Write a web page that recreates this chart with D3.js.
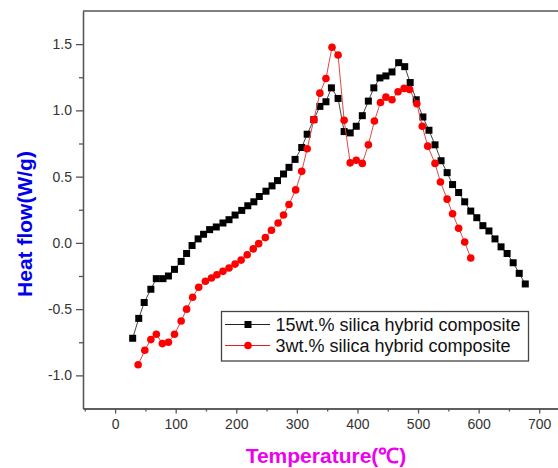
<!DOCTYPE html>
<html>
<head>
<meta charset="utf-8">
<script src="https://cdn.jsdelivr.net/npm/d3@7"></script>
<style>
	body { margin: 0; background: #fff; }
	svg { display: block; font-family: Arial, "Liberation Sans", sans-serif; }
	.axis path, .axis line { stroke: #555; stroke-width: 1.3; }
	.axis text { fill: #333; font-size: 14px; font-family: Arial, "Liberation Sans", sans-serif; }
</style>
</head>
<body>
<div id="chart"></div>
<script>

// 15wt.% silica hybrid composite (black squares)
var temp15 = [29,39,48,59,68,79,88,98,109,118,
	127,137,146,156,167,178,188,198,209,219,
	229,238,249,259,268,278,287,297,308,317,
	328,338,348,357,368,378,388,398,408,418,
	427,437,447,457,468,478,487,497,508,518,
	528,538,548,557,567,577,587,597,607,617,
	627,637,647,657,667,677];
var flow15 = [-0.72,-0.57,-0.45,-0.35,-0.27,-0.27,-0.25,-0.20,-0.14,-0.08,
	-0.02,0.03,0.065,0.10,0.12,0.15,0.175,0.21,0.245,0.28,
	0.31,0.35,0.39,0.43,0.47,0.52,0.57,0.63,0.72,0.82,
	0.93,1.03,1.065,1.17,1.09,0.84,0.83,0.88,0.96,1.07,
	1.17,1.245,1.26,1.29,1.36,1.33,1.21,1.08,0.95,0.85,
	0.74,0.62,0.53,0.44,0.38,0.31,0.24,0.19,0.13,0.09,
	0.03,-0.03,-0.08,-0.15,-0.23,-0.31];

// 3wt.% silica hybrid composite (red circles)
var temp3 = [38,49,59,68,78,88,98,109,118,128,
	138,149,159,168,178,188,198,208,218,228,
	237,248,258,269,278,287,298,308,317,328,
	338,348,358,368,378,388,398,408,418,428,
	438,447,457,467,477,486,498,507,516,528,
	537,548,557,567,577,587];
var flow3 = [-0.92,-0.81,-0.73,-0.69,-0.76,-0.75,-0.69,-0.59,-0.50,-0.41,
	-0.335,-0.29,-0.265,-0.24,-0.215,-0.19,-0.16,-0.13,-0.09,-0.045,
	-0.006,0.04,0.095,0.15,0.21,0.29,0.40,0.54,0.71,0.93,
	1.13,1.24,1.476,1.418,0.926,0.604,0.624,0.60,0.74,0.92,
	1.06,1.10,1.08,1.14,1.166,1.158,1.05,0.88,0.73,0.60,
	0.46,0.33,0.22,0.11,0.007,-0.114];

var seriesNames = ["15wt.% silica hybrid composite", "3wt.% silica hybrid composite"];

var xTicks = [0,100,200,300,400,500,600,700];
var xMinorTicks = [-50,50,150,250,350,450,550,650,750];
var yTicks = [-1.0,-0.5,0.0,0.5,1.0,1.5];
var yMinorTicks = [-0.75,-0.25,0.25,0.75,1.25];

var width = 558, height = 468;

var x = d3.scaleLinear().domain([-53, 731]).range([83, 558]);
var y = d3.scaleLinear().domain([-1.25, 1.75]).range([408.5, 11]);

var svg = d3.select("#chart").append("svg")
	.attr("width", width)
	.attr("height", height);

// top frame line
svg.append("line")
	.attr("x1", x.range()[0]).attr("x2", x.range()[1])
	.attr("y1", y.range()[1]).attr("y2", y.range()[1])
	.attr("stroke", "#555").attr("stroke-width", 1.3);

// x axis, major + minor
svg.append("g")
	.attr("class", "axis")
	.attr("transform", "translate(0," + y.range()[0] + ")")
	.call(d3.axisBottom(x).tickValues(xTicks).tickSize(5).tickSizeOuter(0).tickPadding(6));

svg.append("g")
	.attr("class", "axis")
	.attr("transform", "translate(0," + y.range()[0] + ")")
	.call(d3.axisBottom(x).tickValues(xMinorTicks).tickSize(3).tickSizeOuter(0).tickFormat(""));

// y axis, major + minor
svg.append("g")
	.attr("class", "axis")
	.attr("transform", "translate(" + x.range()[0] + ",0)")
	.call(d3.axisLeft(y).tickValues(yTicks).tickSize(7).tickSizeOuter(0).tickPadding(4)
		.tickFormat(function(d) { return d.toFixed(1); }));

svg.append("g")
	.attr("class", "axis")
	.attr("transform", "translate(" + x.range()[0] + ",0)")
	.call(d3.axisLeft(y).tickValues(yMinorTicks).tickSize(4).tickSizeOuter(0).tickFormat(""));

// axis titles
svg.append("text")
	.attr("transform", "translate(32,224)rotate(-90)")
	.attr("text-anchor", "middle")
	.attr("fill", "#0000ee")
	.attr("font-weight", "bold")
	.attr("font-size", "21px")
	.text("Heat flow(W/g)");

svg.append("text")
	.attr("x", 326)
	.attr("y", 463)
	.attr("text-anchor", "middle")
	.attr("fill", "#ee00ee")
	.attr("font-weight", "bold")
	.attr("font-size", "21px")
	.text("Temperature(\u2103)");

var line = d3.line()
	.x(function(d) { return x(d[0]); })
	.y(function(d) { return y(d[1]); });

var data15 = d3.zip(temp15, flow15);
var data3 = d3.zip(temp3, flow3);

// black squares series
svg.append("path")
	.datum(data15)
	.attr("d", line)
	.attr("fill", "none")
	.attr("stroke", "#444")
	.attr("stroke-width", 1);

svg.selectAll("rect.sq")
	.data(data15)
	.enter()
	.append("rect")
	.attr("class", "sq")
	.attr("x", function(d) { return x(d[0]) - 3.5; })
	.attr("y", function(d) { return y(d[1]) - 3.5; })
	.attr("width", 7)
	.attr("height", 7)
	.attr("fill", "#000");

// red circles series
svg.append("path")
	.datum(data3)
	.attr("d", line)
	.attr("fill", "none")
	.attr("stroke", "#e04848")
	.attr("stroke-width", 1);

svg.selectAll("circle.dot")
	.data(data3)
	.enter()
	.append("circle")
	.attr("class", "dot")
	.attr("cx", function(d) { return x(d[0]); })
	.attr("cy", function(d) { return y(d[1]); })
	.attr("r", 3.8)
	.attr("fill", "#ff0000");

// legend
var legend = svg.append("g").attr("class", "legend");

legend.append("rect")
	.attr("x", 221.5).attr("y", 311.5)
	.attr("width", 307).attr("height", 49.5)
	.attr("fill", "#fff")
	.attr("stroke", "#444")
	.attr("stroke-width", 1.3);

var rows = [
	{name: seriesNames[0], color: "#000", line: "#222", cy: 324.5, shape: "square"},
	{name: seriesNames[1], color: "#ff0000", line: "#e02020", cy: 345.5, shape: "circle"}
];

rows.forEach(function(r) {
	legend.append("line")
		.attr("x1", 225).attr("x2", 270)
		.attr("y1", r.cy).attr("y2", r.cy)
		.attr("stroke", r.line).attr("stroke-width", 1);
	if (r.shape === "square") {
		legend.append("rect")
			.attr("x", 244.5).attr("y", r.cy - 3.5)
			.attr("width", 7).attr("height", 7)
			.attr("fill", r.color);
	} else {
		legend.append("circle")
			.attr("cx", 248).attr("cy", r.cy)
			.attr("r", 3.8)
			.attr("fill", r.color);
	}
	legend.append("text")
		.attr("x", 275.5)
		.attr("y", r.cy + 6.5)
		.attr("fill", "#111")
		.attr("font-size", "18px")
		.text(r.name);
});

</script>
</body>
</html>
